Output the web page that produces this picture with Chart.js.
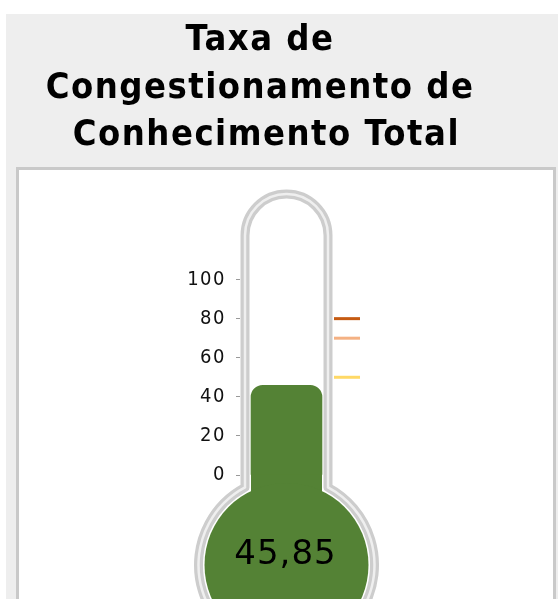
<!DOCTYPE html>
<html>
<head>
<meta charset="utf-8">
<script src="https://cdn.jsdelivr.net/npm/chart.js@4.4.1/dist/chart.umd.min.js"></script>
<style>
  html, body { margin: 0; padding: 0; background: #fff; overflow: hidden; }
  #outer { position: absolute; left: 6px; top: 14px; width: 552px; height: 600px; background: #eeeeee; }
  #panel { position: absolute; left: 16px; top: 167px; width: 534px; height: 600px; background: #fff;
           border-top: 3px solid #c9c9c9; border-left: 3px solid #c9c9c9; border-right: 3px solid #c9c9c9; }
  #chart { position: absolute; left: 0; top: 0; }
</style>
</head>
<body>
<div id="outer"></div>
<div id="panel"></div>
<canvas id="chart" width="520" height="599"></canvas>
<script>
// data
const titleLines = ["Taxa de", "Congestionamento de", " Conhecimento Total"];
const categories = ["Taxa de Congestionamento de Conhecimento Total"];
const values = [45.85];
const yTicks = [0, 20, 40, 60, 80, 100];
const markerValues = [80, 70, 50];
const markerColors = ["#c55a11", "#f4b183", "#ffd966"];

const green = "#548235";
const fontFamily = "'DejaVu Sans Condensed', 'DejaVu Sans'";

// glass tube + bulb, drawn behind the bar
const thermometer = {
    id: "thermometer",
    beforeDraw(chart) {
        // spaced-out lettering for title and ticks
        chart.ctx.letterSpacing = "1.5px";
    },
    beforeDatasetsDraw(chart) {
        const { ctx, chartArea } = chart;
        const cx = (chartArea.left + chartArea.right) / 2;
        const hw = 41.5;
        const topY = chartArea.top - 44;
        const by = chartArea.bottom + 90;
        const br = 88;
        const dy = Math.sqrt(br * br - hw * hw);
        const a1 = Math.atan2(-dy, hw);
        const a2 = Math.atan2(-dy, -hw) + Math.PI * 2;

        ctx.save();
        ctx.beginPath();
        ctx.moveTo(cx - hw, by - dy);
        ctx.lineTo(cx - hw, topY);
        ctx.arc(cx, topY, hw, Math.PI, 0);
        ctx.lineTo(cx + hw, by - dy);
        ctx.arc(cx, by, br, a1, a2);
        ctx.closePath();
        ctx.fillStyle = "#fff";
        ctx.fill();
        ctx.lineJoin = "round";
        ctx.lineWidth = 9;
        ctx.strokeStyle = "#cdcdcd";
        ctx.stroke();
        ctx.lineWidth = 2.5;
        ctx.strokeStyle = "#efefef";
        ctx.stroke();

        // bulb fill
        ctx.fillStyle = green;
        ctx.fillRect(cx - 35.5, chartArea.bottom - 1, 71, 30);
        ctx.beginPath();
        ctx.arc(cx, by, 82, 0, Math.PI * 2);
        ctx.fill();
        ctx.restore();
    },
    afterDatasetsDraw(chart) {
        const { ctx, chartArea, scales } = chart;
        const cx = (chartArea.left + chartArea.right) / 2;
        ctx.save();
        // value label in the bulb
        ctx.letterSpacing = "1px";
        ctx.fillStyle = "#000";
        ctx.font = "34px 'DejaVu Sans'";
        ctx.textAlign = "center";
        ctx.textBaseline = "middle";
        ctx.fillText(values[0].toFixed(2).replace(".", ","), cx - 1, chartArea.bottom + 80);
        // target markers
        ctx.lineWidth = 3;
        markerValues.forEach((v, i) => {
            const y = scales.y.getPixelForValue(v);
            ctx.strokeStyle = markerColors[i];
            ctx.beginPath();
            ctx.moveTo(chartArea.right + 1, y);
            ctx.lineTo(chartArea.right + 27, y);
            ctx.stroke();
        });
        ctx.restore();
    }
};

new Chart(document.getElementById("chart").getContext("2d"), {
    type: "bar",
    data: {
        labels: categories,
        datasets: [{
            data: values,
            backgroundColor: green,
            barThickness: 71,
            borderRadius: { topLeft: 12, topRight: 12 },
            borderSkipped: "bottom",
        }],
    },
    options: {
        responsive: false,
        animation: false,
        layout: { padding: { top: 0, bottom: 124, left: 0, right: 0 } },
        plugins: {
            legend: { display: false },
            tooltip: { enabled: false },
            title: {
                display: true,
                text: titleLines,
                color: "#000",
                font: { family: fontFamily, size: 36, weight: "bold", lineHeight: 1.32 },
                padding: { top: 17, bottom: 120 },
            },
        },
        scales: {
            x: { display: false },
            y: {
                min: 0,
                max: 100,
                afterBuildTicks: (s) => { s.ticks = yTicks.map((v) => ({ value: v })); },
                afterFit: (s) => { s.width = 240; },
                border: { display: false },
                grid: { drawOnChartArea: false, drawTicks: true, tickLength: 4, color: "#999" },
                ticks: { color: "#111", padding: 10, font: { family: fontFamily, size: 20 } },
            },
            y2: {
                position: "right",
                min: 0,
                max: 100,
                afterFit: (s) => { s.width = 187; },
                border: { display: false },
                grid: { display: false },
                ticks: { display: false },
            },
        },
    },
    plugins: [thermometer],
});
</script>
</body>
</html>
